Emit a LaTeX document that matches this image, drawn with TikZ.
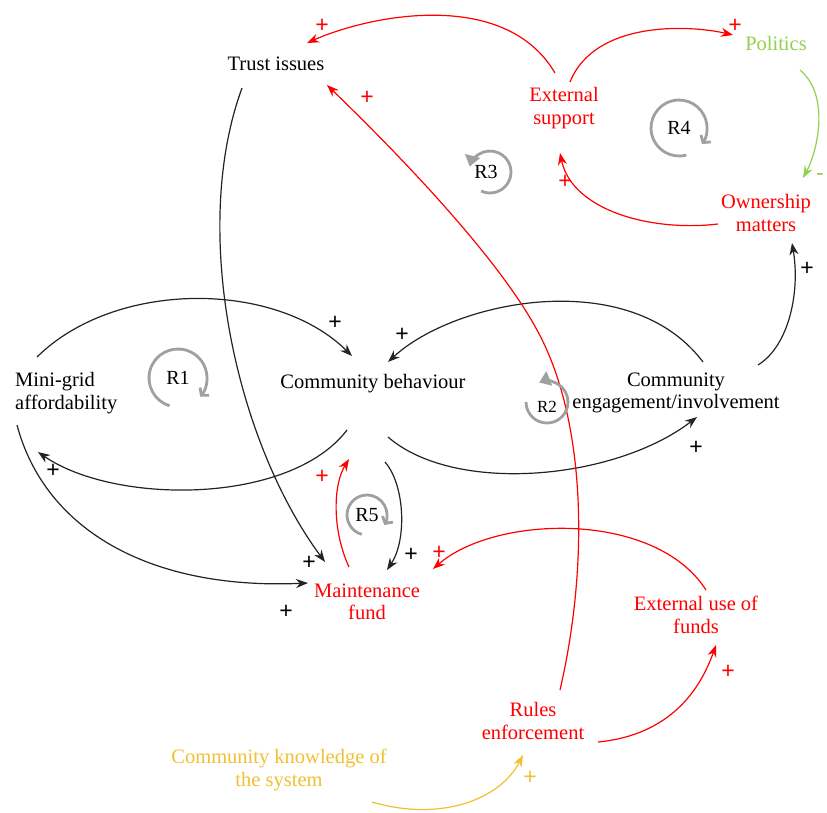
\documentclass[tikz,border=0pt]{standalone}
\usepackage{fontspec}
\setmainfont{Liberation Serif}
\setsansfont{Liberation Sans}
\usetikzlibrary{arrows.meta}
\definecolor{cldred}{RGB}{255,0,0}
\definecolor{cldgreen}{RGB}{146,208,80}
\definecolor{cldgold}{RGB}{240,192,48}
\definecolor{cldink}{RGB}{35,35,35}
\definecolor{loopgray}{RGB}{160,160,160}
\begin{document}
\begin{tikzpicture}[x=1pt,y=1pt,
  var/.style={inner sep=0pt, align=center, font=\fontsize{20.5}{22.5}\selectfont},
  sign/.style={inner sep=0pt, font=\sffamily\fontsize{23}{25}\selectfont},
  link/.style={line width=1.2pt, cldink, -{Stealth[length=12pt,width=9pt]}},
  loopbarb/.style={loopgray, line width=2.8pt, -{Straight Barb[length=5pt,width=12pt]}},
  looptri/.style={loopgray, line width=2.8pt, -{Triangle[length=11pt,width=15pt]}},
  looplbl/.style={inner sep=0pt, font=\fontsize{20}{22}\selectfont}
]
\useasboundingbox (0,0) rectangle (827,-812);

% variables
\node[var] (trust) at (276,-64) {Trust issues};
\node[var, text=cldred] (ext) at (564,-108) {External\\support};
\node[var, text=cldgreen] (pol) at (776,-43) {Politics};
\node[var, text=cldred] (own) at (766,-213) {Ownership\\matters};
\node[var, align=left, anchor=west] (mini) at (15,-393) {Mini-grid\\affordability};
\node[var] (beh) at (373,-384) {Community behaviour};
\node[var] (eng) at (676,-393) {Community\\engagement/involvement};
\node[var, text=cldred] (mf) at (367,-602) {Maintenance\\fund};
\node[var, text=cldred] (euf) at (696,-615) {External use of\\funds};
\node[var, text=cldred] (rules) at (533,-721) {Rules\\enforcement};
\node[var, text=cldgold] (ck) at (279,-770) {Community knowledge of\\the system};

% causal links
\draw[link, cldred] ([shift={(-9,35)}]ext.center) .. controls (505,12) and (370,-15) .. ([shift={(31,21)}]trust.center);
\draw[link, cldred] ([shift={(6,26)}]ext.center) .. controls (595,-20) and (690,-25) .. ([shift={(-43,8)}]pol.center);
\draw[link, cldgreen] ([shift={(24,-27)}]pol.center) .. controls (830,-95) and (818,-150) .. ([shift={(37,35)}]own.center);
\draw[link, cldred] ([shift={(-48,-11)}]own.center) .. controls (650,-232) and (572,-210) .. ([shift={(-4,-45)}]ext.center);
\draw[link] ([shift={(82,28)}]eng.center) .. controls (790,-345) and (800,-290) .. ([shift={(26,-30)}]own.center);
\draw[link] ([shift={(-34,-24)}]trust.center) .. controls (190,-230) and (235,-440) .. ([shift={(-42,40)}]mf.center);
\draw[link] ([shift={(22,36)}]mini.west) .. controls (115,-280) and (275,-280) .. ([shift={(-21,28)}]beh.center);
\draw[link] ([shift={(-26,-46)}]beh.center) .. controls (290,-505) and (115,-505) .. ([shift={(23,-59)}]mini.west);
\draw[link] ([shift={(2,-32)}]mini.west) .. controls (45,-530) and (150,-590) .. ([shift={(-59,19)}]mf.center);
\draw[link] ([shift={(27,31)}]eng.center) .. controls (630,-265) and (455,-300) .. ([shift={(15,22)}]beh.center);
\draw[link] ([shift={(15,-53)}]beh.center) .. controls (455,-495) and (615,-480) .. ([shift={(21,-24)}]eng.center);
\draw[link, cldred] ([shift={(-18,35)}]mf.center) .. controls (332,-530) and (333,-485) .. ([shift={(-24,-75)}]beh.center);
\draw[link] ([shift={(12,-78)}]beh.center) .. controls (405,-485) and (407,-540) .. ([shift={(20,32)}]mf.center);
\draw[link, cldred] ([shift={(10,25)}]euf.center) .. controls (655,-510) and (495,-515) .. ([shift={(66,33)}]mf.center);
\draw[link, cldred] ([shift={(27,31)}]rules.center) .. controls (590,-560) and (585,-417) .. (537,-330)
  .. controls (495,-252) and (387,-143) .. ([shift={(51,-21)}]trust.center);
\draw[link, cldred] ([shift={(65,-21)}]rules.center) .. controls (670,-735) and (700,-690) .. ([shift={(20,-30)}]euf.center);
\draw[link, cldgold] ([shift={(93,-32)}]ck.center) .. controls (440,-822) and (500,-800) .. ([shift={(-10,-34)}]rules.center);

% polarity signs
\node[sign, text=cldred] (s1) at (322,-26) {+};
\node[sign, text=cldred] (s2) at (367,-98) {+};
\node[sign, text=cldred] (s3) at (735,-26) {+};
\node[sign, text=cldgreen] (s4) at (820,-177) {-};
\node[sign, text=cldred] (s5) at (565,-182) {+};
\node[sign] (s6) at (807,-269) {+};
\node[sign] (s7) at (335,-323) {+};
\node[sign] (s8) at (402,-335) {+};
\node[sign] (s9) at (53,-471) {+};
\node[sign] (s10) at (696,-448) {+};
\node[sign, text=cldred] (s11) at (322,-477) {+};
\node[sign] (s12) at (309,-563) {+};
\node[sign] (s13) at (411,-555) {+};
\node[sign, text=cldred] (s14) at (439,-553) {+};
\node[sign] (s15) at (286,-612) {+};
\node[sign, text=cldred] (s16) at (728,-672) {+};
\node[sign, text=cldgold] (s17) at (530,-778) {+};

% reinforcing loop markers
\node[looplbl] (r1) at (178,-378) {R1};
\draw[loopbarb] ([shift={(253:29)}]r1.center) arc[start angle=253, end angle=-40, radius=29];
\node[looplbl, font=\fontsize{17}{19}\selectfont] (r2) at (547,-407) {R2};
\coordinate (r2c) at (547,-402);
\draw[looptri] ([shift={(180:21)}]r2c) arc[start angle=180, end angle=472, radius=21];
\node[looplbl] (r3) at (486,-172) {R3};
\coordinate (r3c) at (490,-172);
\draw[looptri] ([shift={(245:21)}]r3c) arc[start angle=245, end angle=525, radius=21];
\node[looplbl] (r4) at (679,-128) {R4};
\draw[loopbarb] ([shift={(285:28)}]r4.center) arc[start angle=285, end angle=-35, radius=28];
\node[looplbl] (r5) at (367,-515) {R5};
\draw[loopbarb] ([shift={(255:20)}]r5.center) arc[start angle=255, end angle=-30, radius=20];
\end{tikzpicture}
\end{document}
